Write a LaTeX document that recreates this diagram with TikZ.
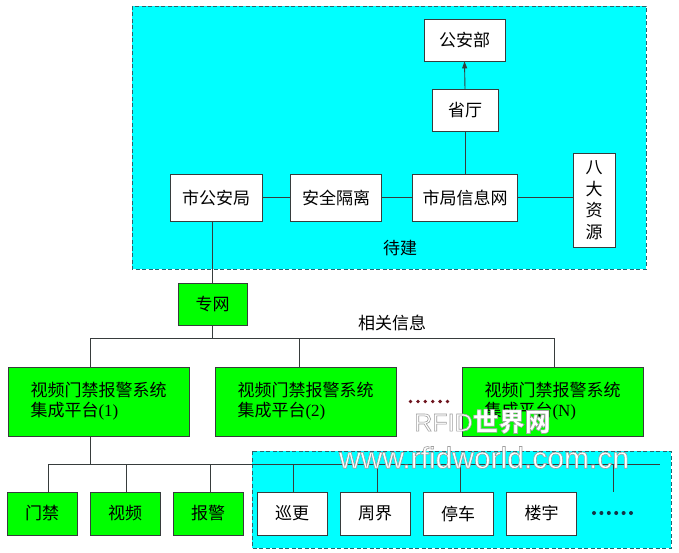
\documentclass[tikz,border=0pt]{standalone}
\usepackage{fontspec}
\setmainfont{Liberation Serif}
\newfontfamily\cjk{Noto Sans CJK SC}
\newfontfamily\wmfont{Liberation Sans}
\usetikzlibrary{arrows.meta}
\definecolor{cyanbg}{RGB}{0,255,255}
\definecolor{greenbg}{RGB}{0,255,0}
\definecolor{edge}{RGB}{55,60,60}
\definecolor{dashc}{RGB}{40,100,110}
\definecolor{dotred}{RGB}{110,20,30}
\definecolor{dotblue}{RGB}{20,50,70}
\newcommand{\outlinedon}{\special{pdf:literal direct 2 Tr 0.6 w 0.62 G}}
\newcommand{\outlinedoff}{\special{pdf:literal direct 0 Tr 0 G}}
\begin{document}
\begin{tikzpicture}[x=1pt,y=-1pt,
  txt/.style={font=\cjk\fontsize{17}{20}\selectfont},
  box/.style={txt,draw=edge,line width=0.9pt,fill=white,inner sep=0pt},
  gbox/.style={box,fill=greenbg},
  conn/.style={draw=edge,line width=0.9pt},
  zone/.style={fill=cyanbg,draw=dashc,line width=0.9pt,dash pattern=on 4pt off 2.5pt},
  lbl/.style={txt,inner sep=0pt},
  plat/.style={gbox,minimum width=181pt,minimum height=69pt,align=left},
  small/.style={box,minimum width=70pt,minimum height=43pt},
  gsmall/.style={small,fill=greenbg},
  wm/.style={text=white,inner sep=0pt}
]
\useasboundingbox (0,0) rectangle (679,553);
\fill[white] (0,0) rectangle (679,553);
% zones
\path[zone] (132,6) rectangle (646,269);
\path[zone] (252,451) rectangle (671,548);

% top nodes
\node[box,minimum width=81pt,minimum height=42pt] (gab) at (464.5,40) {公安部};
\node[box,minimum width=66pt,minimum height=42pt] (st) at (465,110.5) {省厅};
\node[box,minimum width=92pt,minimum height=47pt] (sgaj) at (216,197.5) {市公安局};
\node[box,minimum width=91pt,minimum height=47pt] (aqgl) at (336,197.5) {安全隔离};
\node[box,minimum width=105pt,minimum height=47pt] (sjxx) at (465,197.5) {市局信息网};
\node[box,minimum width=42pt,minimum height=94pt,align=center,font=\cjk\fontsize{17}{21.5}\selectfont] (bdzy) at (594,200) {八\\大\\资\\源};
\node[lbl] (dj) at (400,248.5) {待建};

\draw[conn] (sgaj) -- (aqgl);
\draw[conn] (aqgl) -- (sjxx);
\draw[conn] (sjxx.east) -- (sjxx.east -| bdzy.west);
\draw[conn] (sjxx) -- (st);
\draw[conn,-{Triangle[length=7pt,width=5pt]}] (st.north) -- (gab.south);

% private network
\node[gbox,minimum width=69pt,minimum height=42pt] (zw) at (212.5,304) {专网};
\draw[conn] (sgaj.south -| zw.north) -- (zw.north);
\node[lbl] (xgxx) at (392,323) {相关信息};

\coordinate (bl) at (90,338);
\coordinate (bm) at (299,338);
\coordinate (br) at (554,338);
\draw[conn] (zw.south) -- (zw.south |- bl);
\draw[conn] (bl) -- (br);

\node[plat] (p1) at (98.5,401.5) {视频门禁报警系统\\集成平台{\rmfamily(1)}};
\node[plat] (p2) at (305.5,401.5) {视频门禁报警系统\\集成平台{\rmfamily(2)}};
\node[plat] (pn) at (552.5,401.5) {视频门禁报警系统\\集成平台{\rmfamily(N)}};
\draw[conn] (bl) -- (bl |- p1.north);
\draw[conn] (bm) -- (bm |- p2.north);
\draw[conn] (br) -- (br |- pn.north);
\foreach \i in {0,...,5} \fill[dotred] (410.5+7.4*\i,401.5) circle (1.9pt);

% subsystems
\coordinate (c1) at (90,464);
\coordinate (sl) at (48,464);
\coordinate (sr) at (660,464);
\draw[conn] (p1.south -| c1) -- (c1);
\draw[conn] (sl) -- (sr);

\node[gsmall] (mj) at (42,513.5) {门禁};
\node[gsmall] (sp) at (125,513.5) {视频};
\node[gsmall] (bj) at (208,513.5) {报警};
\node[small] (xg) at (292,513.5) {巡更};
\node[small] (zj) at (375,513.5) {周界};
\node[small] (tc) at (458,513.5) {停车};
\node[small] (ly) at (541.5,513.5) {楼宇};
\coordinate (d1) at (48,464);
\coordinate (d2) at (126,464);
\coordinate (d3) at (210,464);
\coordinate (d4) at (293,464);
\coordinate (d5) at (377,464);
\coordinate (d6) at (460,464);
\coordinate (d7) at (613,464);
\coordinate (d7e) at (613,492);
\draw[conn] (d1) -- (d1 |- mj.north);
\draw[conn] (d2) -- (d2 |- sp.north);
\draw[conn] (d3) -- (d3 |- bj.north);
\draw[conn] (d4) -- (d4 |- xg.north);
\draw[conn] (d5) -- (d5 |- zj.north);
\draw[conn] (d6) -- (d6 |- tc.north);
\draw[conn] (d7) -- (d7e);
\foreach \i in {0,...,5} \fill[dotblue] (594+7.4*\i,513) circle (2pt);

% watermark (white text with grey outline)
\node[wm] (wm1) at (482.5,421.5) {\outlinedon{\wmfont\fontsize{25}{28}\selectfont RFID}{\cjk\bfseries\fontsize{26}{28}\selectfont 世界网}\outlinedoff};
\node[wm] (wm2) at (484,457.5) {\outlinedon\wmfont\fontsize{30}{32}\selectfont www.rfidworld.com.cn\outlinedoff};
\end{tikzpicture}
\end{document}
